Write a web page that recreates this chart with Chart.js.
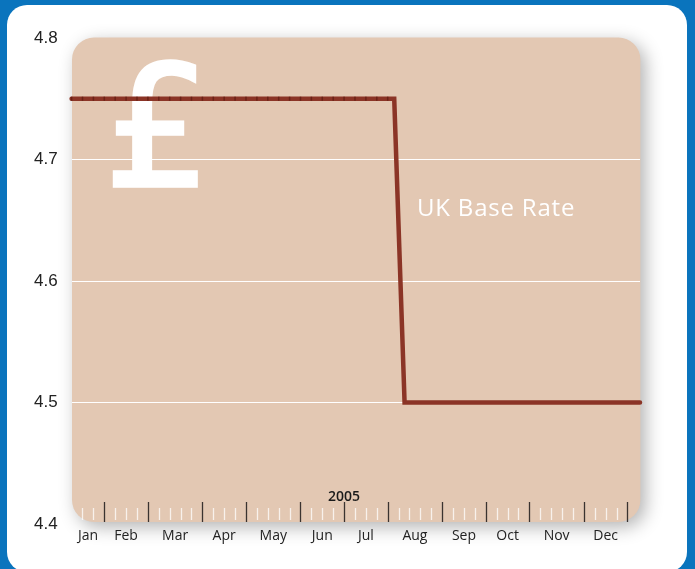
<!DOCTYPE html>
<html>
<head>
<meta charset="utf-8">
<script src="https://cdn.jsdelivr.net/npm/chart.js@4.4.1/dist/chart.umd.min.js"></script>
<style>
	html, body { margin: 0; padding: 0; background: #0a74bd; }
	canvas { display: block; }
</style>
</head>
<body>
<canvas id="myChart" width="695" height="569"></canvas>
<script>
// week of 2005 (0 = first week of Jan) and UK base rate (%)
const weeks = [
	0, 1, 2, 3, 4, 5, 6, 7, 8, 9, 10, 11, 12, 13, 14, 15, 16, 17, 18, 19,
	20, 21, 22, 23, 24, 25, 26, 27, 28, 29, 29.6,
	30.55, 31, 32, 33, 34, 35, 36, 37, 38, 39, 40, 41, 42, 43, 44, 45, 46,
	47, 48, 49, 50, 51, 52, 52.15,
];
const baseRate = [
	4.75, 4.75, 4.75, 4.75, 4.75, 4.75, 4.75, 4.75, 4.75, 4.75, 4.75, 4.75,
	4.75, 4.75, 4.75, 4.75, 4.75, 4.75, 4.75, 4.75, 4.75, 4.75, 4.75, 4.75,
	4.75, 4.75, 4.75, 4.75, 4.75, 4.75, 4.75,
	4.5, 4.5, 4.5, 4.5, 4.5, 4.5, 4.5, 4.5, 4.5, 4.5, 4.5, 4.5, 4.5, 4.5,
	4.5, 4.5, 4.5, 4.5, 4.5, 4.5, 4.5, 4.5, 4.5, 4.5,
];
const yTicks = [4.4, 4.5, 4.6, 4.7, 4.8];
const months = ["Jan", "Feb", "Mar", "Apr", "May", "Jun", "Jul", "Aug", "Sep", "Oct", "Nov", "Dec"];
// week where each month block starts (labels sit in the middle of each block)
const monthEdges = [0, 3, 7, 12, 16, 21, 25, 29, 34, 38, 42, 47, 51];
const yearLabel = "2005";
const seriesTitle = "UK Base Rate";

const decor = {
	id: "decor",
	beforeDraw(chart) {
		const { ctx, chartArea: a, width, height } = chart;
		ctx.save();
		ctx.fillStyle = "#0a74bd";
		ctx.fillRect(0, 0, width, height);
		ctx.fillStyle = "#ffffff";
		ctx.beginPath();
		ctx.roundRect(7, 5, 680, 567, 20);
		ctx.fill();
		// tan panel with soft shadow
		ctx.shadowColor = "rgba(0,0,0,0.3)";
		ctx.shadowBlur = 18;
		ctx.shadowOffsetX = 5;
		ctx.shadowOffsetY = 5;
		ctx.fillStyle = "#e3c8b3";
		ctx.beginPath();
		ctx.roundRect(a.left + 0.4, a.top - 0.5, a.right - a.left, a.bottom - a.top - 1.5, 22);
		ctx.fill();
		ctx.restore();
	},
	beforeDatasetsDraw(chart) {
		const { ctx, chartArea: a } = chart;
		const x = chart.scales.x;
		ctx.save();
		// big pound sign
		ctx.fillStyle = "#ffffff";
		ctx.strokeStyle = "#ffffff";
		ctx.lineWidth = 3.5;
		ctx.lineJoin = "miter";
		ctx.font = '168px "DejaVu Sans"';
		ctx.textBaseline = "alphabetic";
		ctx.fillText("£", 104, 186);
		ctx.strokeText("£", 104, 186);
		// series title
		ctx.font = '24px "Open Sans"';
		ctx.letterSpacing = "0.8px";
		ctx.textBaseline = "middle";
		ctx.fillText(seriesTitle, 417, 209);
		ctx.letterSpacing = "0px";
		// week ticks along the bottom
		const majors = monthEdges.slice(1);
		for (let w = 1; w <= 51; w++) {
			const px = Math.round(x.getPixelForValue(w)) + 0.5;
			ctx.beginPath();
			if (majors.includes(w)) {
				ctx.strokeStyle = "#3a3330";
				ctx.lineWidth = 1.3;
				ctx.moveTo(px, a.bottom - 22);
				ctx.lineTo(px, a.bottom - 2);
			} else {
				ctx.strokeStyle = "rgba(255,255,255,0.75)";
				ctx.lineWidth = 1.3;
				ctx.moveTo(px, a.bottom - 16);
				ctx.lineTo(px, a.bottom - 4);
			}
			ctx.stroke();
		}
		// year label
		ctx.fillStyle = "#1a1a1a";
		ctx.font = '600 14px "Open Sans"';
		ctx.textAlign = "center";
		ctx.textBaseline = "middle";
		ctx.fillText(yearLabel, x.getPixelForValue(monthEdges[6]), a.bottom - 27);
		ctx.restore();
	},
};

const monthMids = months.map((m, i) => {
	const end = i + 1 < monthEdges.length ? monthEdges[i + 1] : monthEdges[i] + 4;
	return (monthEdges[i] + end) / 2;
});

new Chart(document.getElementById("myChart"), {
	type: "line",
	data: {
		datasets: [
			{
				data: weeks.map((w, i) => ({ x: w, y: baseRate[i] })),
				borderColor: "#8b3426",
				borderWidth: 4.5,
				borderCapStyle: "round",
				borderJoinStyle: "miter",
				tension: 0,
				clip: false,
				pointStyle: "line",
				pointRotation: 90,
				pointBorderColor: "#6a2217",
				pointBorderWidth: 1.5,
				pointRadius: (c) =>
					baseRate[c.dataIndex] === 4.75 && Number.isInteger(weeks[c.dataIndex]) ? 2 : 0,
			},
		],
	},
	options: {
		responsive: false,
		animation: false,
		events: [],
		layout: { padding: { left: 0, top: 38, right: 55, bottom: 0 } },
		plugins: { legend: { display: false }, tooltip: { enabled: false } },
		scales: {
			x: {
				type: "linear",
				min: 0,
				max: 52.15,
				afterBuildTicks: (s) => {
					s.ticks = monthMids.map((v) => ({ value: v }));
				},
				afterFit: (s) => {
					s.height = 45;
				},
				grid: { display: false },
				border: { display: false },
				ticks: {
					autoSkip: false,
					maxRotation: 0,
					padding: -4,
					color: "#222222",
					font: { family: "Open Sans", size: 14 },
					callback: (v, i) => months[i],
				},
			},
			y: {
				min: 4.4,
				max: 4.8,
				afterBuildTicks: (s) => {
					s.ticks = yTicks.map((v) => ({ value: v }));
				},
				afterFit: (s) => {
					s.width = 71.6;
				},
				border: { display: false },
				grid: {
					drawTicks: false,
					lineWidth: 1,
					color: (c) =>
						c.tick && c.tick.value > 4.45 && c.tick.value < 4.75 ? "#ffffff" : "rgba(0,0,0,0)",
				},
				ticks: {
					padding: 14,
					color: "#222222",
					font: { family: "Liberation Sans", size: 17 },
					callback: (v) => Number(v).toFixed(1),
				},
			},
		},
	},
	plugins: [decor],
});
</script>
</body>
</html>
